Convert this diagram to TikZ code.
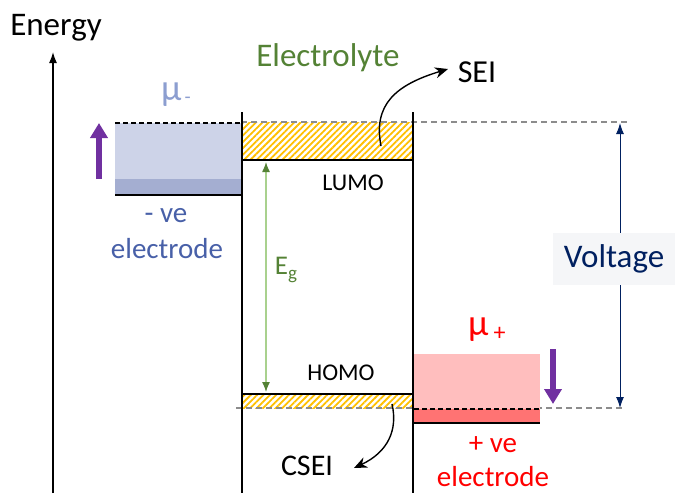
\documentclass[tikz,border=0pt]{standalone}
\usepackage{fontspec}
\setmainfont{Carlito}
\usetikzlibrary{arrows.meta,patterns.meta}
\definecolor{elgreen}{RGB}{84,130,53}
\definecolor{egline}{RGB}{169,209,142}
\definecolor{hatchy}{RGB}{255,192,0}
\definecolor{lblue}{RGB}{205,211,232}
\definecolor{dblue}{RGB}{164,174,209}
\definecolor{mublue}{RGB}{140,158,208}
\definecolor{veblue}{RGB}{72,96,168}
\definecolor{lpink}{RGB}{255,190,190}
\definecolor{dred}{RGB}{255,115,115}
\definecolor{purp}{RGB}{112,48,160}
\definecolor{navy}{RGB}{0,32,96}
\definecolor{vbox}{RGB}{245,246,248}
\definecolor{dgray}{RGB}{140,140,140}
\newcommand{\fsz}[1]{\fontsize{#1}{#1}\selectfont}
\tikzset{
  lbl/.style={inner sep=0pt, font=\fsz{29}},
  big lbl/.style={inner sep=0pt, font=\fsz{33}},
  small lbl/.style={inner sep=0pt, font=\fsz{24}},
  wall/.style={line width=2pt},
  level/.style={line width=2pt},
  hatch/.style={pattern={Lines[angle=45,distance=4.5pt,line width=1.8pt]}, pattern color=hatchy},
  graydash/.style={dgray, line width=1.2pt, dash pattern=on 6pt off 4pt},
  blackdash/.style={black, line width=1.6pt, dash pattern=on 5pt off 3pt},
  shiftarrow/.style={purp, line width=6pt, -{Triangle[length=15pt,width=17pt]}},
  curvearrow/.style={line width=1.4pt, -{Stealth[length=13pt,width=11pt]}},
}
\begin{document}
\begin{tikzpicture}[x=1pt,y=-1pt]
\useasboundingbox (0,0) rectangle (675,493);
% energy axis
\coordinate (axb) at (53,493);
\coordinate (axt) at (53,52);
\draw[line width=1.5pt, -{Latex[length=11pt,width=8pt]}] (axb) -- (axt);
\node[big lbl] (energy) at (56,28) {Energy};
% left electrode
\fill[lblue] (115,123) rectangle (241,179);
\fill[dblue] (115,179) rectangle (241,195);
\coordinate (lb1) at (115,195); \coordinate (lb2) at (241,195);
\draw[level] (lb1) -- (lb2);
\coordinate (lt1) at (115,123); \coordinate (lt2) at (241,123);
\draw[blackdash] (lt1) -- (lt2);
\coordinate (pu1) at (99,179); \coordinate (pu2) at (99,123);
\draw[shiftarrow] (pu1) -- (pu2);
\node[inner sep=0pt, font=\fsz{37}, text=mublue, anchor=base west] (mum) at (161,100) {μ\hspace{3pt}\raisebox{-3pt}{\fsz{20}-}};
\node[lbl, text=veblue] (vem) at (166,216) {- ve};
\node[lbl, text=veblue] (elm) at (167,249) {electrode};
% electrolyte bands
\fill[white] (242,122) rectangle (413,160);
\fill[hatch] (242,122) rectangle (413,160);
\fill[hatch] (242,394) rectangle (413,408);
% gray dashed reference lines
\coordinate (gt1) at (241,122); \coordinate (gt2) at (630,122);
\coordinate (gb1) at (236,408); \coordinate (gb2) at (625,408);
\draw[graydash] (gt1) -- (gt2);
\draw[graydash] (gb1) -- (gb2);
\coordinate (lu1) at (242,160); \coordinate (lu2) at (413,160);
\draw[level] (lu1) -- (lu2);
\coordinate (ho1) at (242,394); \coordinate (ho2) at (413,394);
\draw[level] (ho1) -- (ho2);
% walls
\coordinate (wl1) at (242,112); \coordinate (wl2) at (242,493);
\coordinate (wr1) at (413,112); \coordinate (wr2) at (413,493);
\draw[wall] (wl1) -- (wl2);
\draw[wall] (wr1) -- (wr2);
\node[big lbl, text=elgreen] (elec) at (328,58) {Electrolyte};
\node[small lbl] (lumo) at (353,183) {LUMO};
\node[small lbl] (homo) at (341,373) {HOMO};
% Eg arrow
\coordinate (eg1) at (266,162); \coordinate (eg2) at (266,392);
\draw[egline, line width=1.3pt, {Latex[length=10pt,width=8pt,color=elgreen]}-{Latex[length=10pt,width=8pt,color=elgreen]}] (eg1) -- (eg2);
\node[inner sep=0pt, font=\fsz{27}, text=elgreen] (eg) at (286,270) {E\raisebox{-5pt}{\fsz{19}g}};
% right electrode
\fill[lpink] (414,354) rectangle (540,409);
\fill[dred] (414,409) rectangle (540,423);
\coordinate (rb1) at (414,423); \coordinate (rb2) at (540,423);
\draw[level] (rb1) -- (rb2);
\coordinate (rt1) at (414,409); \coordinate (rt2) at (540,409);
\draw[blackdash] (rt1) -- (rt2);
\coordinate (pd1) at (553,349); \coordinate (pd2) at (553,404);
\draw[shiftarrow] (pd1) -- (pd2);
\node[inner sep=0pt, font=\fsz{37}, text=red, anchor=base west] (mup) at (468,335) {μ\hspace{5pt}\raisebox{-5pt}{\fsz{24}+}};
\node[lbl, text=red] (vep) at (493,445) {+ ve};
\node[lbl, text=red] (elp) at (493,477) {electrode};
% SEI / CSEI
\node[inner sep=0pt, font=\fsz{32}] (sei) at (477,72) {SEI};
\coordinate (seis) at (381,146);
\coordinate (seit) at (448,69);
\draw[curvearrow] (seis) .. controls (373,105) and (395,85) .. (seit);
\node[inner sep=0pt, font=\fsz{30}] (csei) at (307,466) {CSEI};
\coordinate (cseis) at (392,404);
\coordinate (cseit) at (354,468);
\draw[curvearrow] (cseis) .. controls (398,430) and (388,452) .. (cseit);
% Voltage
\coordinate (vt) at (620,123); \coordinate (vb) at (620,408);
\draw[navy, line width=1pt, {Latex[length=11pt,width=8pt]}-{Latex[length=11pt,width=8pt]}] (vt) -- (vb);
\node[fill=vbox, text=navy, font=\fsz{33}, minimum width=122pt, minimum height=52pt, inner sep=0pt] (volt) at (614,259) {Voltage};
\end{tikzpicture}
\end{document}
